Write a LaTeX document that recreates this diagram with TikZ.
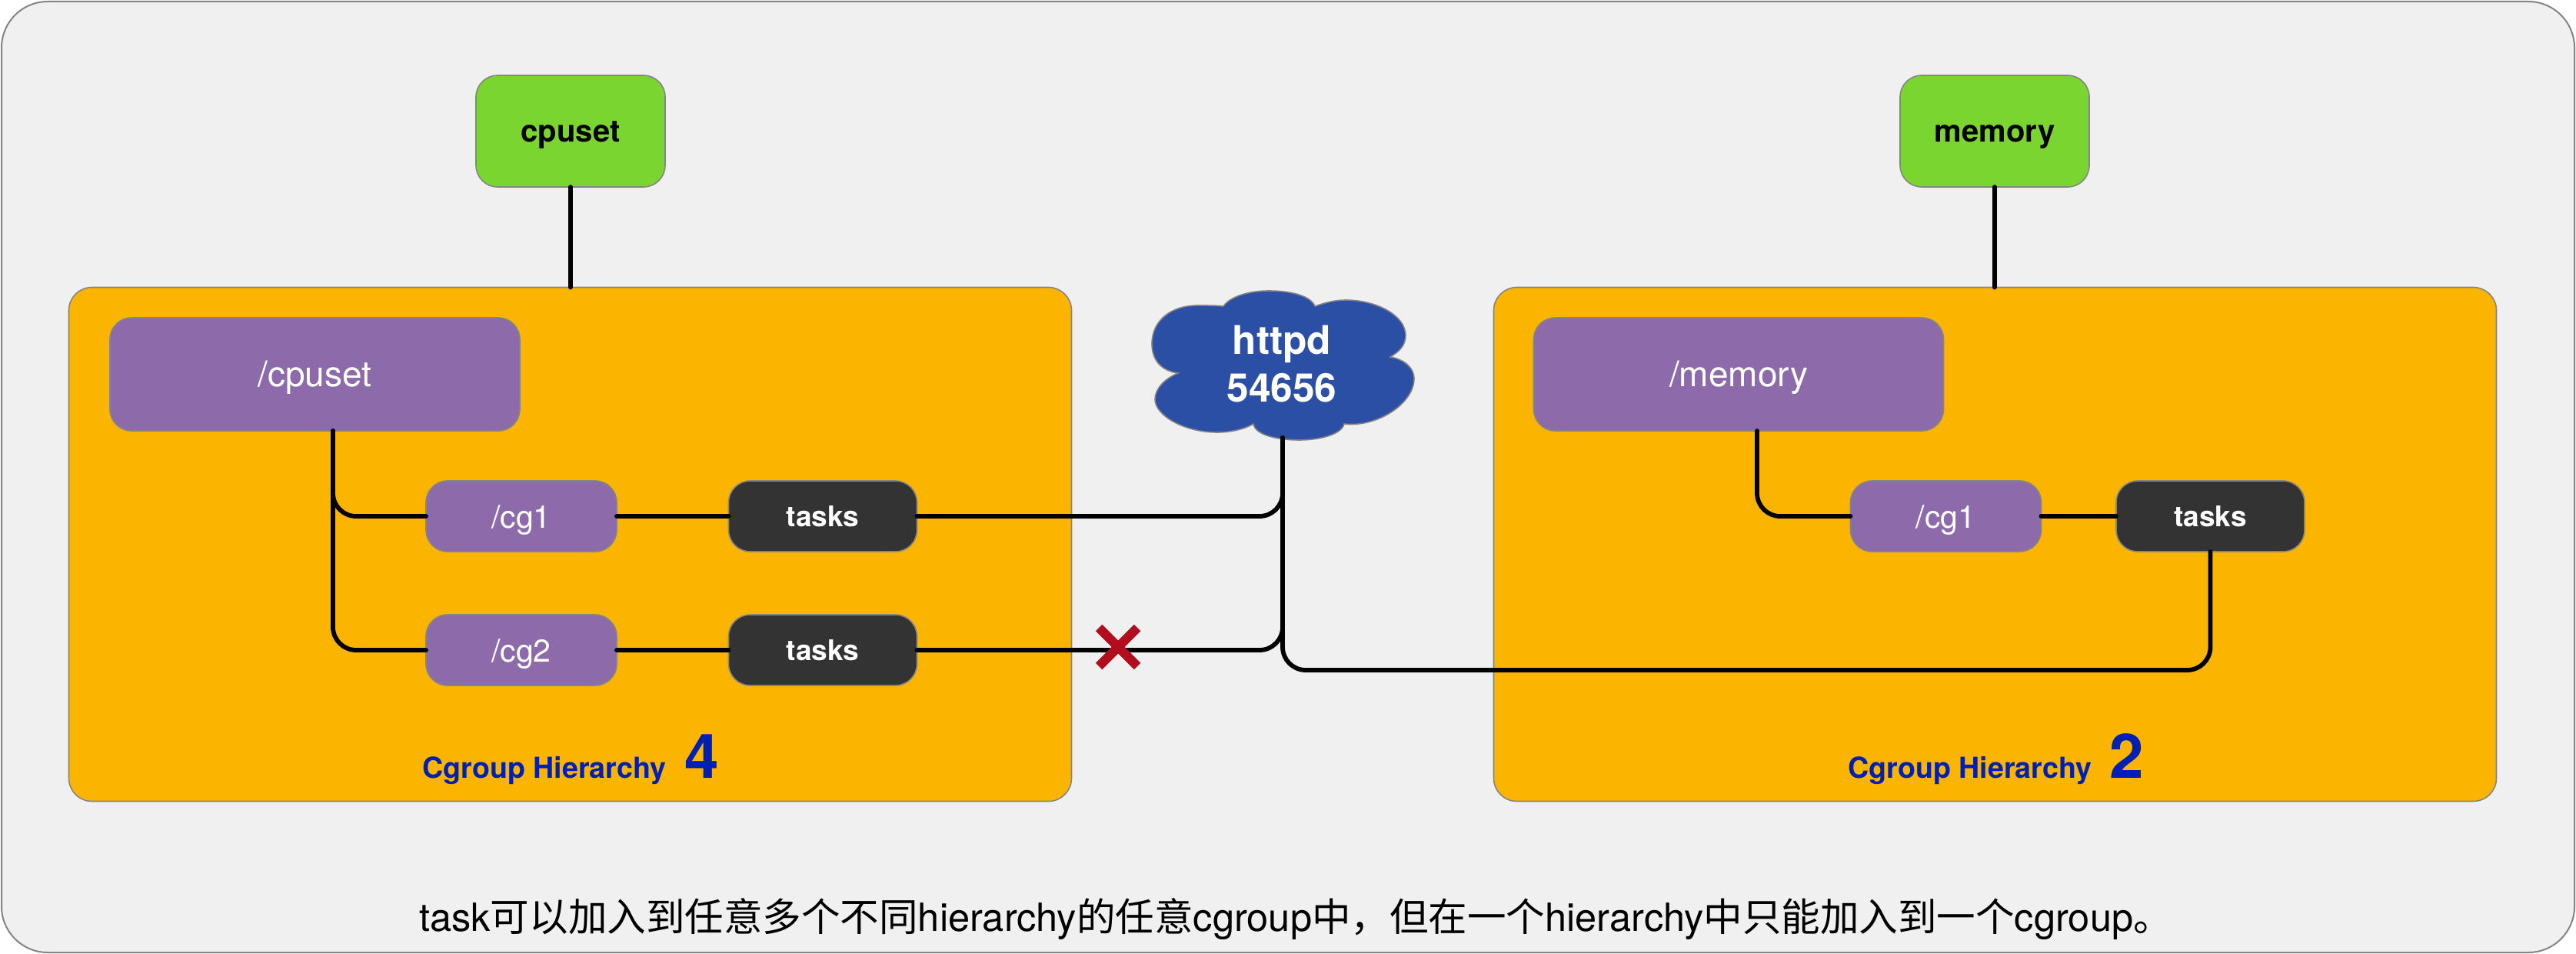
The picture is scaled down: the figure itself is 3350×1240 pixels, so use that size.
\documentclass[tikz,border=0pt]{standalone}
\usepackage{fontspec}
\setmainfont{TeX Gyre Heros}
\newfontfamily\cjkfont{Noto Sans CJK SC}
\usetikzlibrary{calc}
\definecolor{panelbg}{HTML}{F0F0F0}
\definecolor{panelline}{HTML}{858585}
\definecolor{hierbg}{HTML}{FBB400}
\definecolor{purplebox}{HTML}{8D6BAB}
\definecolor{darkbox}{HTML}{333333}
\definecolor{greenbox}{HTML}{7BD530}
\definecolor{cloudblue}{HTML}{2A4FA4}
\definecolor{labelblue}{HTML}{0020B4}
\definecolor{crossred}{HTML}{B20D1E}
\tikzset{
  x=.5pt,y=-.5pt,
  boxbase/.style={draw=panelline,line width=.8pt,rounded corners=14pt,inner sep=0pt,outer sep=0pt,align=center,text depth=3pt},
  greenkey/.style={boxbase,fill=greenbox,minimum width=123pt,minimum height=72.5pt,text=black,text height=17.5pt,font=\fontsize{20}{24}\selectfont\bfseries},
  hier/.style={boxbase,fill=hierbg,rounded corners=15pt,minimum width=652pt,minimum height=334pt},
  rootbox/.style={boxbase,fill=purplebox,minimum width=266.5pt,minimum height=73.5pt,text=white,text height=19.5pt,font=\fontsize{23}{28}\selectfont},
  cgbox/.style={boxbase,fill=purplebox,minimum width=124pt,minimum height=46pt,text=white,text height=18pt,font=\fontsize{20.5}{24}\selectfont},
  taskbox/.style={boxbase,fill=darkbox,minimum width=122.5pt,minimum height=46pt,text=white,text height=16pt,font=\fontsize{18.5}{22}\selectfont\bfseries},
  wire/.style={draw=black,line width=2.9pt,line cap=round,rounded corners=15pt},
  hierlabel/.style={text=labelblue,inner sep=0pt,font=\fontsize{18.8}{22}\selectfont\bfseries},
  hiernum/.style={text=labelblue,inner sep=0pt,font=\fontsize{40}{44}\selectfont\bfseries},
}
\begin{document}
\begin{tikzpicture}
\useasboundingbox (0,0) rectangle (3350,1240);
\fill[white] (0,0) rectangle (3350,1240);
\draw[fill=panelbg,draw=panelline,line width=1pt,rounded corners=30pt] (2,2) rectangle (3348,1238);

% hierarchies
\node[hier] (hierL) at (741.5,707.5) {};
\node[hier] (hierR) at (2594.5,707.5) {};

% top keys
\node[greenkey] (cpuset) at (742,170.5) {cpuset};
\node[greenkey] (memory) at (2594,170.5) {memory};

% root cgroups
\node[rootbox] (rootL) at (409.5,486.5) {/cpuset};
\node[rootbox] (rootR) at (2261,486.5) {/memory};

% left children
\node[cgbox] (cgA) at (678,671) {/cg1};
\node[cgbox] (cgB) at (678,845) {/cg2};
\node[taskbox] (tasksA) at (1070,671) {tasks};
\node[taskbox] (tasksB) at (1070,845) {tasks};

% right children
\node[cgbox] (cgR) at (2530.5,671) {/cg1};
\node[taskbox] (tasksR) at (2874.5,671) {tasks};

% cloud
\path[fill=cloudblue,draw=panelline,line width=.8pt]
  (1591,398) .. controls (1600,385) and (1625,378) .. (1650,378)
  .. controls (1680,378) and (1705,385) .. (1710,398)
  .. controls (1722,394) and (1735,390) .. (1750,390)
  .. controls (1790,390) and (1828,410) .. (1828,436)
  .. controls (1828,450) and (1818,458) .. (1808,464)
  .. controls (1826,467) and (1839,478) .. (1839,492)
  .. controls (1839,525) and (1790,556) .. (1748,551)
  .. controls (1745,565) and (1715,572) .. (1690,572)
  .. controls (1660,572) and (1632,565) .. (1630,551)
  .. controls (1618,558) and (1600,562) .. (1583,562)
  .. controls (1540,562) and (1502,540) .. (1502,519)
  .. controls (1502,505) and (1515,492) .. (1532,485)
  .. controls (1510,482) and (1498,468) .. (1498,447)
  .. controls (1498,415) and (1525,397) .. (1557,397)
  .. controls (1570,397) and (1582,397) .. (1591,398) -- cycle;
\node[text=white,align=center,inner sep=0pt,font=\fontsize{25.7}{31}\selectfont\bfseries] (httpd) at (1667,473) {httpd\\54656};

% labels
\node[hierlabel,anchor=base west] (labL) at (549,1011) {Cgroup Hierarchy};
\node[hiernum,anchor=base west] (numL) at (890,1011) {4};
\node[hierlabel,anchor=base west] (labR) at (2403,1011) {Cgroup Hierarchy};
\node[hiernum,anchor=base west] (numR) at (2743,1011) {2};
\node[text=black,inner sep=0pt,anchor=base,font=\fontsize{25.27}{30}\selectfont] (note) at (1685,1210)
  {task{\cjkfont 可以加入到任意多个不同}hierarchy{\cjkfont 的任意}cgroup{\cjkfont 中，但在一个}hierarchy{\cjkfont 中只能加入到一个}cgroup{\cjkfont 。}};

% free connector ends
\coordinate (httpdFoot) at (1668,569);
\coordinate (rootLFoot) at (433,560);
\coordinate (rootRFoot) at (2285,560);
\coordinate (lowRun) at (2000,871);

% connectors
\draw[wire] (cpuset.south) -- (hierL.north -| cpuset.south);
\draw[wire] (memory.south) -- (hierR.north -| memory.south);
\draw[wire] (rootLFoot) -- (rootLFoot |- cgA.west) -- (cgA.west);
\draw[wire] (rootLFoot) -- (rootLFoot |- cgB.west) -- (cgB.west);
\draw[wire] (cgA.east) -- (tasksA.west);
\draw[wire] (cgB.east) -- (tasksB.west);
\draw[wire] (rootRFoot) -- (rootRFoot |- cgR.west) -- (cgR.west);
\draw[wire] (cgR.east) -- (tasksR.west);
\draw[wire] (httpdFoot) -- (httpdFoot |- tasksA.east) -- (tasksA.east);
\draw[wire] (httpdFoot) -- (httpdFoot |- tasksB.east) -- (tasksB.east);
\draw[wire] (httpdFoot) -- (httpdFoot |- lowRun) -- (lowRun -| tasksR.south) -- (tasksR.south);

% cross
\coordinate (crossC) at (1454,841);
\draw[crossred,line width=6pt] ($(crossC)+(-25,-25)$) -- ($(crossC)+(25,25)$);
\draw[crossred,line width=6pt] ($(crossC)+(-25,25)$) -- ($(crossC)+(25,-25)$);
\end{tikzpicture}
\end{document}
